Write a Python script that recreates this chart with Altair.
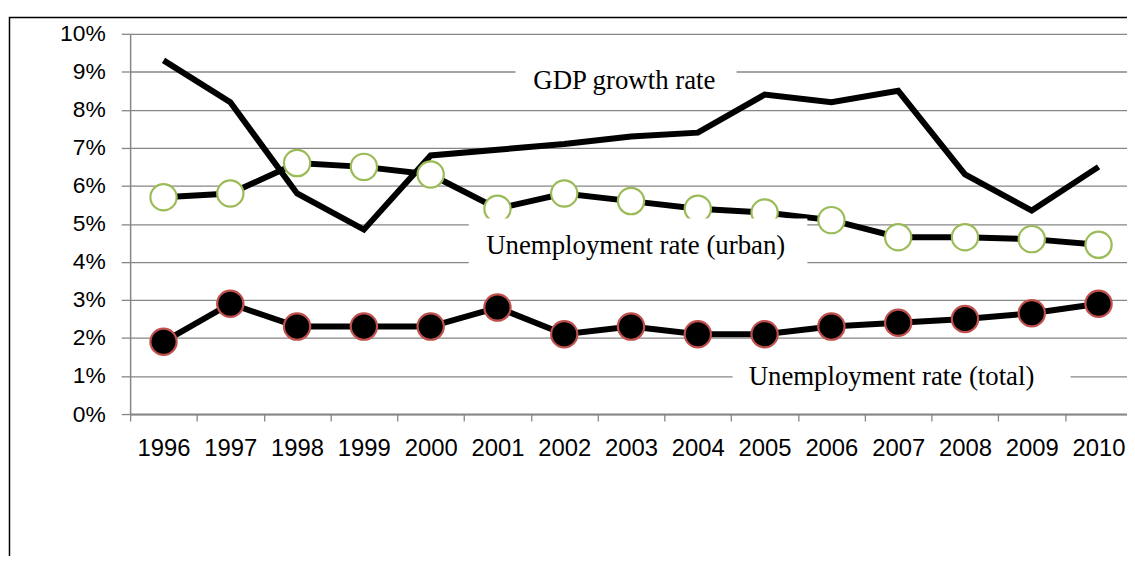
import altair as alt
import pandas as pd

# ---- data ----
years = list(range(1996, 2011))
gdp_growth = [9.3, 8.2, 5.8, 4.85, 6.8, 6.95, 7.1, 7.3, 7.4, 8.4, 8.2, 8.5, 6.3, 5.35, 6.5]
unemp_urban = [5.7, 5.8, 6.6, 6.5, 6.3, 5.4, 5.8, 5.6, 5.4, 5.3, 5.1, 4.65, 4.65, 4.6, 4.45]
unemp_total = [1.9, 2.9, 2.3, 2.3, 2.3, 2.8, 2.1, 2.3, 2.1, 2.1, 2.3, 2.4, 2.5, 2.65, 2.9]
y_ticks = list(range(0, 11))
x_boundaries = [y - 0.5 for y in years]

# annotation labels (text + anchor in data coords, white box extents)
ann_labels = ["GDP growth rate", "Unemployment rate (urban)", "Unemployment rate (total)"]
ann_x = [2002.9, 2003.07, 2006.9]
ann_y = [8.54, 4.22, 0.76]
box_x1 = [2001.27, 2000.57, 2004.52]
box_x2 = [2004.58, 2005.64, 2009.58]
box_y1 = [9.45, 5.14, 1.70]
box_y2 = [8.25, 3.66, 0.26]

df = pd.DataFrame({"year": years, "gdp": gdp_growth, "urban": unemp_urban, "total": unemp_total})
ann = pd.DataFrame({"label": ann_labels, "tx": ann_x, "ty": ann_y,
                    "bx1": box_x1, "bx2": box_x2, "by1": box_y1, "by2": box_y2})

W, H = 1004, 383
GRID = "#868686"

xscale = alt.Scale(domain=[1995.5, 2010.426], nice=False, zero=False)
yscale = alt.Scale(domain=[0, 10], nice=False, zero=True)

xaxis = alt.Axis(values=x_boundaries, labelExpr="format(datum.value + 0.5, 'd')",
                 labelOffset=33.6, tickSize=7, tickColor=GRID, tickWidth=1.3,
                 domainColor=GRID, domainWidth=2, grid=False,
                 labelFont="Liberation Sans", labelFontSize=24, labelColor="black",
                 labelPadding=16, labelOverlap=False, labelFlush=False, labelBound=False,
                 title=None)
yaxis = alt.Axis(values=y_ticks, labelExpr="datum.value + '%'", tickSize=9,
                 tickColor=GRID, tickWidth=1.3, grid=True, gridColor=GRID, gridWidth=1.3,
                 domainColor=GRID, domainWidth=1.5, labelFont="Liberation Sans",
                 labelFontSize=23, labelColor="black", labelPadding=16, title=None)


def X(f):
    return alt.X(f, type="quantitative", scale=xscale, axis=xaxis)


def Y(f):
    return alt.Y(f, type="quantitative", scale=yscale, axis=yaxis)


base = alt.Chart(df)

frame = alt.Chart(pd.DataFrame({"a": [0]})).mark_rect(
    fillOpacity=0, stroke="black", strokeWidth=1.5
).encode(x=alt.value(-121.5), x2=alt.value(W + 100), y=alt.value(-16.5), y2=alt.value(H + 300))

LW = 6
MS = 700
gdp_line = base.mark_line(color="black", strokeWidth=LW).encode(x=X("year"), y=Y("gdp"))
urban_line = base.mark_line(color="black", strokeWidth=LW).encode(x=X("year"), y=Y("urban"))
urban_pts = base.mark_circle(fill="white", stroke="#9BBB59", strokeWidth=2.2, size=MS,
                             opacity=1, fillOpacity=1).encode(x=X("year"), y=Y("urban"))
total_line = base.mark_line(color="black", strokeWidth=LW).encode(x=X("year"), y=Y("total"))
total_pts = base.mark_circle(fill="black", stroke="#C0504D", strokeWidth=2.2, size=MS,
                             opacity=1, fillOpacity=1).encode(x=X("year"), y=Y("total"))

boxes = alt.Chart(ann).mark_rect(fill="white").encode(
    x=X("bx1"), x2="bx2", y=Y("by1"), y2="by2")
texts = alt.Chart(ann).mark_text(font="Liberation Serif", fontSize=27, color="black",
                                 align="center", baseline="alphabetic").encode(
    x=X("tx"), y=Y("ty"), text="label")

chart = alt.layer(frame, gdp_line, urban_line, urban_pts, total_line, total_pts, boxes, texts).properties(
    width=W, height=H,
    padding={"left": 123, "top": 24, "right": 0, "bottom": 141},
    autosize=alt.AutoSizeParams(type="none"),
    background="white",
).configure_view(stroke=None)

chart.save("out.html", embed_options={"renderer": "svg", "actions": False})
